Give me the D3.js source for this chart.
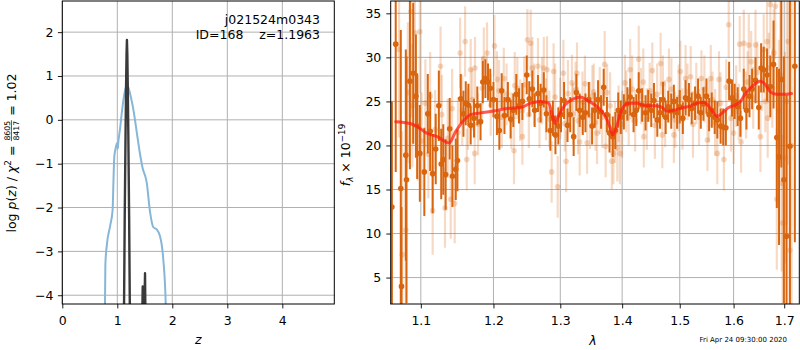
<!DOCTYPE html>
<html><head><meta charset="utf-8">
<script src="https://cdn.jsdelivr.net/npm/d3@7"></script>
<style>body{margin:0;background:#fff} svg{display:block} text{font-family:"DejaVu Sans",sans-serif}</style>
</head><body><svg id="c" width="800" height="350"></svg>
<script>
// ---------- left panel: p(z) ----------
const zTicks = [0, 1, 2, 3, 4];
const lpTicks = [-4, -3, -2, -1, 0, 1, 2];
const chiZ = [0.770,0.776,0.783,0.810,0.870,0.915,0.930,0.945,0.965,0.990,1.003,1.008,1.015,1.050,1.090,1.130,1.165,1.200,1.250,1.290,1.350,1.413,1.460,1.535,1.595,1.655,1.716,1.776,1.836,1.880,1.890];
const chiLogP = [-6,-4.2,-3.3,-2.85,-2.42,-2.05,-1.4,-0.85,-0.68,-0.55,-0.52,-0.66,-0.55,-0.2,0.25,0.6,0.78,0.74,0.5,0.25,-0.25,-0.78,-1.1,-1.43,-2.1,-2.45,-2.5,-2.65,-3.18,-4.2,-6];
const pzZ = [1.080,1.118,1.135,1.150,1.160,1.168,1.175,1.182,1.190,1.200,1.215,1.232,1.270,1.420,1.452,1.462,1.470,1.490,1.497,1.504,1.512,1.550];
const pzLogP = [-10,-5,-2.2,-0.3,0.8,1.5,1.82,1.5,0.8,-0.3,-2.2,-5,-10,-10,-4.6,-3.8,-4.6,-5,-4.0,-3.5,-4.6,-10];
const fieldName = "j021524m0343";
const idLine = "ID=168    z=1.1963";

// ---------- right panel: spectrum ----------
const waveTicks = [1.1, 1.2, 1.3, 1.4, 1.5, 1.6, 1.7];
const fluxTicks = [5, 10, 15, 20, 25, 30, 35];
const darkWave = [
1.0625,1.0674,1.0739,1.0748,1.0804,1.0813,1.0857,1.0900,1.0935,1.0952,
1.0987,1.1046,1.1092,1.1124,1.1157,1.1198,1.1240,1.1272,1.1300,1.1332,
1.1387,1.1424,1.1470,1.1493,1.1539,1.1576,1.1608,1.1645,1.1677,1.1724,
1.1770,1.1816,1.1848,1.1885,1.1922,1.1954,1.2000,1.2050,1.2085,1.2119,
1.2159,1.2209,1.2249,1.2289,1.2333,1.2373,1.2423,1.2488,1.2527,1.2572,
1.2607,1.2657,1.2697,1.2746,1.2786,1.2846,1.2886,1.2925,1.2970,1.3011,
1.3059,1.3113,1.3156,1.3210,1.3253,1.3306,1.3355,1.3398,1.3452,1.3505,
1.3548,1.3602,1.3651,1.3694,1.3747,1.3790,1.3844,1.3887,1.3935,1.3978,
1.4029,1.4088,1.4135,1.4193,1.4240,1.4281,1.4339,1.4398,1.4444,1.4497,
1.4544,1.4602,1.4649,1.4702,1.4749,1.4795,1.4848,1.4895,1.4953,1.5000,
1.5056,1.5105,1.5167,1.5216,1.5278,1.5333,1.5383,1.5432,1.5488,1.5537,
1.5586,1.5642,1.5691,1.5753,1.5802,1.5852,1.5914,1.5969,1.6020,1.6078,
1.6131,1.6196,1.6248,1.6307,1.6359,1.6425,1.6490,1.6536,1.6588,1.6654,
1.6719,1.6784,1.6850,1.6895,1.6941,1.6993,1.7048,1.7116,1.7218];
const darkFlux = [
13.0,31.5,15.1,4.0,18.9,16.1,27.3,28.2,25.6,22.2,
19.1,17.0,23.6,21.6,16.8,19.6,24.5,17.9,18.4,16.7,
21.9,16.5,17.3,18.3,25.3,23.6,24.8,24.6,22.3,23.1,
24.5,22.7,27.2,27.6,27.2,26.5,25.2,23.3,21.7,26.2,
23.4,25.2,23.0,24.0,25.8,24.5,25.0,28.0,25.3,26.4,
24.0,25.9,24.8,26.3,23.6,21.7,23.1,21.2,22.2,23.5,
25.1,22.3,23.5,21.0,26.0,24.0,23.2,23.7,25.2,22.2,
24.0,25.2,23.8,26.6,23.5,21.4,21.0,21.7,24.0,23.2,
23.8,24.7,25.5,23.5,24.0,26.2,24.6,23.7,24.5,24.0,
25.1,22.9,23.7,25.2,23.2,24.4,23.9,25.0,23.7,24.4,
23.1,25.4,25.2,24.2,24.8,25.6,23.7,24.7,25.6,23.5,
24.0,23.2,22.9,22.2,22.1,22.0,27.3,25.4,25.0,24.4,
23.1,26.4,24.0,25.6,26.4,27.4,24.3,28.8,28.6,28.0,
26.7,29.2,20.9,18.7,27.5,16.1,9.7,19.9,29.0];
const darkErr = [
12,14.5,18,9,12,14,10,8,7,6,
5.5,5,4.5,4.5,4.5,4,4,4,4,4,
3.5,3.5,3.5,3.5,2.8,2.6,2.5,2.4,2.2,2.2,
2.2,2.1,2.4,2.2,2.1,2.2,2.0,2.1,2.2,2.0,
2.1,2.0,2.2,1.9,2.3,2.0,2.1,2.2,2.0,2.1,
1.9,2.1,2.2,2.0,2.1,2.3,2.0,2.2,2.1,2.0,
2.1,1.9,2.0,2.2,2.1,1.9,2.0,2.2,2.0,2.1,
2.0,2.2,1.9,2.1,2.0,2.2,2.3,2.1,2.0,1.9,
2.0,1.9,2.1,2.0,1.8,2.1,1.9,2.0,1.8,1.9,
2.0,1.9,1.8,2.0,1.9,1.8,2.0,1.9,1.8,1.9,
1.8,2.0,1.9,1.8,1.9,2.0,1.8,1.9,2.0,1.9,
2.0,1.9,2.1,2.0,2.1,2.0,2.2,2.1,2.0,2.2,
2.1,2.3,2.2,2.4,2.3,2.6,2.5,2.8,2.6,3.0,
3.5,5,8,10,10,14,16,18,20];
const lightWave = [
1.0717,1.0757,1.0804,1.0870,1.0922,1.0987,1.1124,1.1157,1.1263,1.1323,
1.1401,1.1456,1.1530,1.1599,1.1622,1.1677,1.1733,1.1737,1.1862,1.1908,
1.2015,1.2050,1.2149,1.2299,1.2348,1.2423,1.2498,1.2547,1.2572,1.2657,
1.2746,1.2796,1.2866,1.2896,1.2960,1.3048,1.3091,1.3183,1.3263,1.3306,
1.3425,1.3532,1.3586,1.3710,1.3726,1.3828,1.3855,1.3919,1.3962,1.4047,
1.4135,1.4281,1.4368,1.4515,1.4661,1.4690,1.4807,1.4895,1.5012,1.5105,
1.5198,1.5395,1.5506,1.5568,1.5691,1.5722,1.5815,1.5907,1.6000,1.6118,
1.6144,1.6196,1.6294,1.6340,1.6425,1.6523,1.6588,1.6654,1.6667,1.6719,
1.6817,1.6850,1.6948,1.6967,1.7014,1.7082,1.7116,
1.0830,1.0890,1.0960,1.1010,1.1060,1.1100,1.1190,1.1280,1.1360,1.1420,
1.1500,1.1560,1.1640,1.1700,1.1780,1.1840,1.1960,1.2080,1.2120,1.2190,
1.2260,1.2310,1.2390,1.2450,1.2520,1.2600,1.2680,1.2720,1.2780,1.2830,
1.2920,1.3000,1.3070,1.3120,1.3200,1.3240,1.3280,1.3350,1.3390,1.3470,
1.3510,1.3560,1.3630,1.3670,1.3750,1.3800,1.3880,1.3940,1.4000,1.4070,
1.4110,1.4170,1.4220,1.4320,1.4360,1.4420,1.4470,1.4560,1.4600,1.4700,
1.4740,1.4850,1.4920,1.4980,1.5050,1.5140,1.5240,1.5300,1.5350,1.5450,
1.5530,1.5600,1.5650,1.5750,1.5860,1.5950,1.6050,1.6100,1.6240,1.6270,
1.6380,1.6460,1.6560,1.6620,1.6690,1.6760,1.6790,1.6890,1.6920,1.7050,
1.7150];
const lightFlux = [
30.9,7.6,10.4,35.2,32.8,32.9,25.6,12.6,29.0,12.9,
13.9,13.4,30.5,31.8,18.4,28.6,19.1,28.8,29.9,30.5,
31.3,27.5,27.6,19.4,26.5,21.0,32.0,31.6,28.8,29.0,
28.8,28.6,17.0,28.4,15.3,28.2,18.2,27.1,28.2,20.4,
20.3,26.1,21.4,29.2,19.9,18.2,19.1,19.7,19.1,27.1,
28.6,29.8,21.0,28.5,29.3,21.2,27.5,21.2,28.4,27.6,
27.8,27.6,20.6,27.6,19.1,27.5,18.4,33.7,21.4,31.5,
20.4,31.6,31.4,29.5,31.4,21.0,30.9,31.8,23.1,36.0,
35.8,13.9,15.7,11.2,18.6,31.8,8.1,
26.0,24.5,22.0,20.5,24.8,19.0,21.8,23.5,20.8,24.2,
21.5,24.0,23.0,25.2,22.4,26.5,24.6,26.2,23.2,25.8,
22.8,26.8,24.0,26.9,23.5,25.8,22.9,26.2,24.1,23.0,
25.5,24.2,22.5,25.9,23.6,26.3,22.8,24.9,27.0,23.4,
25.6,22.6,25.1,23.2,26.0,24.5,21.5,23.6,22.4,25.0,
23.2,26.4,22.8,25.6,27.2,23.0,26.2,22.3,25.8,27.0,
23.6,26.4,22.9,25.4,23.0,26.1,22.4,25.9,23.2,26.4,
23.9,25.2,22.6,24.8,26.6,23.1,25.6,23.8,24.6,27.2,
25.4,28.3,27.4,25.0,28.8,26.5,30.5,24.0,28.0,25.0,
20.0];
const lightErr = [
10,14,12,12,8,7,5,5,4.5,4.5,
4.5,4.5,4,4,3.5,3.5,3.5,3.5,3.5,3.5,
3.5,3.2,3.5,3.8,3.5,3.2,3.5,3.8,3.5,3.2,
3.5,3.8,3.5,3.2,3.5,3.8,3.5,3.2,3.5,3.8,
3.5,3.2,3.5,3.8,3.5,3.2,3.5,3.8,3.5,3.2,
3.5,3.8,3.5,3.2,3.5,3.8,3.5,3.2,3.5,3.8,
3.5,3.2,3.5,3.8,3.5,3.2,3.5,3.8,3.5,3.2,
3.5,3.8,3.5,3.5,4,4,4,4.5,4.5,5,
6,8,10,10,12,14,16,
8,7,6,5.5,5,5,4.5,4.5,4.5,4.5,
4,4,3.5,3.5,3.5,3.5,3.5,3.5,3.5,3.5,
3.2,3.8,3.5,3.2,3.8,3.5,3.2,3.8,3.5,3.2,
3.8,3.5,3.2,3.8,3.5,3.2,3.8,3.5,3.2,3.8,
3.5,3.2,3.8,3.5,3.2,3.8,3.5,3.2,3.8,3.5,
3.2,3.8,3.5,3.2,3.8,3.5,3.2,3.8,3.5,3.2,
3.8,3.5,3.2,3.8,3.5,3.2,3.8,3.5,3.2,3.8,
3.5,3.2,3.8,3.5,3.2,3.8,3.5,3.2,3.8,3.5,
3.5,3.5,3.5,3.5,4,4.5,5,8,10,14,
18];
const modelWave = [1.0674,1.0857,1.0943,1.1078,1.1217,1.1378,1.1470,1.1585,1.1677,1.1816,
1.2000,1.2199,1.2398,1.2547,1.2697,1.2821,1.2870,1.2920,1.2975,1.3075,
1.3210,1.3317,1.3452,1.3586,1.3720,1.3801,1.3844,1.3909,1.3989,1.4105,
1.4251,1.4398,1.4544,1.4661,1.4778,1.4895,1.5012,1.5198,1.5321,1.5444,
1.5537,1.5630,1.5691,1.5784,1.5907,1.6033,1.6131,1.6229,1.6359,1.6523,
1.6588,1.6719,1.6850,1.6980,1.7150];
const modelFlux = [22.7,22.5,22.2,21.4,21.0,20.3,21.6,22.9,23.5,23.7,
23.9,24.2,24.3,24.8,25.0,24.8,23.6,22.5,23.4,24.6,
25.3,25.5,25.0,24.4,23.3,22.0,21.2,22.2,24.0,24.8,
24.8,24.5,24.5,24.4,23.9,24.0,24.2,24.5,24.8,24.9,
24.4,23.6,23.3,23.7,24.3,24.6,25.0,25.9,26.7,27.3,
27.1,26.1,25.8,25.8,25.9];
const timestamp = "Fri Apr 24 09:30:00 2020";

// ---------- drawing ----------
const svg = d3.select("#c");
const FS = 12.5;
const GRID = "#b0b0b0";
const ORANGE = "#d9650e";

const L = {x0: 62.3, x1: 334.3, y0: 1, y1: 304};
const R = {x0: 390.7, x1: 799.3, y0: 1, y1: 304};
const xL = d3.scaleLinear().domain([0, 4.945]).range([L.x0, L.x1]);
const yL = d3.scaleLinear().domain([-4.2, 2.71]).range([L.y1, L.y0]);
const xR = d3.scaleLog().domain([1.061, 1.731]).range([R.x0, R.x1]);
const yR = d3.scaleLinear().domain([2, 36.4]).range([R.y1, R.y0]);

const defs = svg.append("defs");
defs.append("clipPath").attr("id", "clipL").append("rect")
  .attr("x", L.x0).attr("y", L.y0).attr("width", L.x1 - L.x0).attr("height", L.y1 - L.y0);
defs.append("clipPath").attr("id", "clipR").append("rect")
  .attr("x", R.x0).attr("y", R.y0).attr("width", R.x1 - R.x0).attr("height", R.y1 - R.y0);

function grid(P, xs, xTicks, ys, yTicks) {
  const g = svg.append("g").attr("stroke", GRID).attr("stroke-width", 1);
  xTicks.forEach(t => g.append("line").attr("x1", xs(t)).attr("x2", xs(t)).attr("y1", P.y0).attr("y2", P.y1));
  yTicks.forEach(t => g.append("line").attr("y1", ys(t)).attr("y2", ys(t)).attr("x1", P.x0).attr("x2", P.x1));
}
grid(L, xL, zTicks, yL, lpTicks);
grid(R, xR, waveTicks, yR, fluxTicks);

function styleAxis(g) {
  g.select(".domain").remove();
  g.selectAll(".tick line").attr("stroke", "#000").attr("stroke-width", 0.9);
  g.selectAll(".tick text").attr("font-size", FS).attr("font-family", "DejaVu Sans").attr("fill", "#000");
}
svg.append("g").attr("transform", `translate(0,${L.y1})`)
  .call(d3.axisBottom(xL).tickValues(zTicks).tickFormat(d3.format("d")).tickSize(4.4).tickPadding(7.5)).call(styleAxis);
svg.append("g").attr("transform", `translate(${L.x0},0)`)
  .call(d3.axisLeft(yL).tickValues(lpTicks).tickFormat(d3.format("d")).tickSize(4.4).tickPadding(4.5)).call(styleAxis);
svg.append("g").attr("transform", `translate(0,${R.y1})`)
  .call(d3.axisBottom(xR).tickValues(waveTicks).tickFormat(d3.format(".1f")).tickSize(4.4).tickPadding(7.5)).call(styleAxis);
svg.append("g").attr("transform", `translate(${R.x0},0)`)
  .call(d3.axisLeft(yR).tickValues(fluxTicks).tickFormat(d3.format("d")).tickSize(4.4).tickPadding(5)).call(styleAxis);

// left panel curves
const gl = svg.append("g").attr("clip-path", "url(#clipL)");
gl.append("path")
  .datum(chiZ.map((z, i) => [z, chiLogP[i]]))
  .attr("d", d3.line().x(d => xL(d[0])).y(d => yL(d[1])).curve(d3.curveMonotoneX))
  .attr("fill", "none").attr("stroke", "#86b6d8").attr("stroke-width", 2);
gl.append("path")
  .datum(pzZ.map((z, i) => [z, pzLogP[i]]))
  .attr("d", d3.line().x(d => xL(d[0])).y(d => yL(d[1])))
  .attr("fill", "none").attr("stroke", "#3a3a3a").attr("stroke-width", 2.4).attr("stroke-linejoin", "round");

// right panel spectrum
const gr = svg.append("g").attr("clip-path", "url(#clipR)");
const light = lightWave.map((w, i) => ({w, f: lightFlux[i], e: lightErr[i]}));
const dark = darkWave.map((w, i) => ({w, f: darkFlux[i], e: darkErr[i]}));
const lg = gr.append("g");
lg.selectAll("line").data(light).join("line")
  .attr("x1", d => xR(d.w)).attr("x2", d => xR(d.w))
  .attr("y1", d => yR(d.f - d.e)).attr("y2", d => yR(d.f + d.e))
  .attr("stroke", ORANGE).attr("stroke-opacity", 0.24).attr("stroke-width", 2.2);
lg.selectAll("circle").data(light).join("circle")
  .attr("cx", d => xR(d.w)).attr("cy", d => yR(d.f)).attr("r", 2.8)
  .attr("fill", ORANGE).attr("fill-opacity", 0.25);
const dg = gr.append("g");
dg.selectAll("line").data(dark).join("line")
  .attr("x1", d => xR(d.w)).attr("x2", d => xR(d.w))
  .attr("y1", d => yR(d.f - d.e)).attr("y2", d => yR(d.f + d.e))
  .attr("stroke", ORANGE).attr("stroke-width", 2);
dg.selectAll("circle").data(dark).join("circle")
  .attr("cx", d => xR(d.w)).attr("cy", d => yR(d.f)).attr("r", 2.8)
  .attr("fill", ORANGE);
gr.append("path")
  .datum(modelWave.map((w, i) => [w, modelFlux[i]]))
  .attr("d", d3.line().x(d => xR(d[0])).y(d => yR(d[1])).curve(d3.curveMonotoneX))
  .attr("fill", "none").attr("stroke", "#ff1a10").attr("stroke-opacity", 0.72)
  .attr("stroke-width", 3).attr("stroke-linejoin", "round").attr("stroke-linecap", "round");

// frames
[L, R].forEach(P => svg.append("rect").attr("x", P.x0).attr("y", P.y0)
  .attr("width", P.x1 - P.x0).attr("height", P.y1 - P.y0)
  .attr("fill", "none").attr("stroke", "#000").attr("stroke-width", 1));

// annotations
svg.append("text").attr("x", 320).attr("y", 24).attr("text-anchor", "end")
  .attr("font-size", FS).text(fieldName);
svg.append("text").attr("x", 320).attr("y", 38.5).attr("text-anchor", "end")
  .attr("font-size", FS).style("white-space", "pre").text(idLine);

// x labels
svg.append("text").attr("x", (L.x0 + L.x1) / 2).attr("y", 344).attr("text-anchor", "middle")
  .attr("font-size", FS).attr("font-style", "italic").text("z");
svg.append("text").attr("x", (R.x0 + R.x1) / 2 - 2).attr("y", 345).attr("text-anchor", "middle")
  .attr("font-size", FS).attr("font-style", "italic").text("λ");

// left y label with fraction
const ylo = svg.append("g").attr("transform", "translate(15.5,153) rotate(-90)");
const yli = ylo.append("g");
const t1 = yli.append("text").attr("font-size", FS).style("white-space", "pre");
t1.append("tspan").text("log ");
t1.append("tspan").attr("font-style", "italic").text("p");
t1.append("tspan").text("(");
t1.append("tspan").attr("font-style", "italic").text("z");
t1.append("tspan").text(") / ");
t1.append("tspan").attr("font-style", "italic").text("χ");
t1.append("tspan").attr("font-size", 8.8).attr("dy", -5).text("2");
t1.append("tspan").attr("dy", 5).text(" = ");
const w1 = t1.node().getComputedTextLength();
const num = yli.append("text").attr("font-size", 7.8).attr("y", -5.3).text("8605");
const fw = num.node().getComputedTextLength();
num.attr("x", w1 + 1);
yli.append("text").attr("font-size", 7.8).attr("x", w1 + 1).attr("y", 3.6).text("8417");
yli.append("line").attr("x1", w1 + 0.5).attr("x2", w1 + 1.5 + fw).attr("y1", -4.1).attr("y2", -4.1)
  .attr("stroke", "#000").attr("stroke-width", 0.7);
const t3 = yli.append("text").attr("font-size", FS).style("white-space", "pre").attr("x", w1 + 2 + fw).text(" = 1.02");
const total = w1 + 2 + fw + t3.node().getComputedTextLength();
yli.attr("transform", `translate(${-total / 2},0)`);

// right y label
const ry = svg.append("text").attr("transform", "translate(350,155) rotate(-90)")
  .attr("text-anchor", "middle").attr("font-size", FS).style("white-space", "pre");
ry.append("tspan").attr("font-style", "italic").text("f");
ry.append("tspan").attr("font-size", 8.8).attr("dy", 3).attr("font-style", "italic").text("λ");
ry.append("tspan").attr("dy", -3).text(" × 10");
ry.append("tspan").attr("font-size", 8.8).attr("dy", -5).text("−19");

// timestamp
svg.append("text").attr("x", 787).attr("y", 342).attr("text-anchor", "end")
  .attr("font-size", 7).text(timestamp);
</script>
</body></html>
